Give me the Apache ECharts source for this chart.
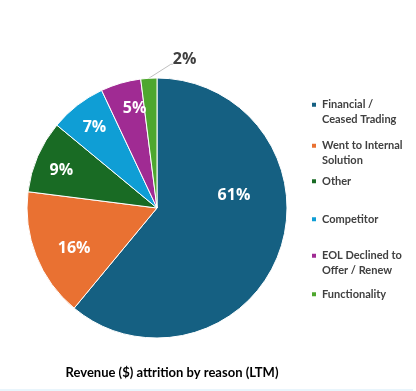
<!DOCTYPE html>
<html>
<head>
<meta charset="utf-8">
<script src="https://cdn.jsdelivr.net/npm/echarts@6/dist/echarts.min.js"></script>
<style>html,body{margin:0;padding:0;background:#fff;}#c{width:416px;height:391px;}</style>
</head>
<body>
<div id="c"></div>
<script>
const categories = ['Financial / Ceased Trading', 'Went to Internal Solution', 'Other', 'Competitor', 'EOL Declined to Offer / Renew', 'Functionality'];
const legendLabels = ['Financial /\nCeased Trading', 'Went to Internal\nSolution', 'Other', 'Competitor', 'EOL Declined to\nOffer / Renew', 'Functionality'];
const values = [61, 16, 9, 7, 5, 2];
const colors = ['#156082', '#E97132', '#196B24', '#0F9ED5', '#A02B93', '#4EA72E'];
const chartTitle = 'Revenue ($) attrition by reason (LTM)';

const chart = echarts.init(document.getElementById('c'), null, {renderer: 'canvas'});
const center = [157, 208];
const R = 130;
const legendTops = [83, 124, 174, 212, 234, 287];
const last = values.length - 1;

const pieData = categories.map((n, i) => ({name: n, value: values[i], itemStyle: {color: colors[i]}}));
const labelData = categories.map((n, i) => {
  const d = {name: n, value: values[i]};
  if (i === 0) d.label = {offset: [-19, -47]};
  if (i === 1) d.label = {offset: [12, 3]};
  if (i === 2) d.label = {offset: [-2, 3]};
  if (i === 4) d.label = {offset: [6, -2]};
  if (i === last) {
    d.label = {position: 'outside', color: '#404040'};
    d.labelLine = {show: true, length: 15, length2: 4, lineStyle: {color: '#bfbfbf', width: 1}};
  }
  return d;
});

// Two-line entries get a balancing empty line above so the marker sits beside the first line
const legends = categories.map((n, i) => ({
  data: [n],
  left: 310,
  top: legendTops[i],
  orient: 'vertical',
  padding: 0,
  itemWidth: 6,
  itemHeight: 6,
  icon: 'rect',
  selectedMode: false,
  formatter: () => (legendLabels[i].indexOf('\n') >= 0 ? '\n' : '') + legendLabels[i],
  textStyle: {fontFamily: 'Lato', fontWeight: 'bold', fontSize: 11, color: '#404040', lineHeight: 14.5}
}));

chart.setOption({
  animation: false,
  legend: legends,
  graphic: [{
    type: 'text', x: 172, y: 373,
    style: {text: chartTitle, fontFamily: 'Lato', fontWeight: 'bold', fontSize: 13, fill: '#000', textAlign: 'center', textVerticalAlign: 'middle'}
  }, {
    type: 'rect', left: 0, bottom: 0,
    shape: {width: 413, height: 2},
    style: {fill: '#e9f5fc'}
  }],
  series: [{
    type: 'pie', center: center, radius: [0, R], startAngle: 90, clockwise: true,
    data: pieData, label: {show: false}, labelLine: {show: false},
    itemStyle: {borderColor: '#fff', borderWidth: 1}, emphasis: {disabled: true}
  }, {
    type: 'pie', center: center, radius: [68, R], startAngle: 90, clockwise: true,
    data: labelData, silent: true,
    itemStyle: {color: 'rgba(0,0,0,0)', borderWidth: 0},
    label: {show: true, position: 'inside', formatter: '{c}%', color: '#fff', fontFamily: 'Open Sans', fontWeight: 'bold', fontSize: 16},
    labelLine: {show: false},
    labelLayout: function (p) {
      if (p.dataIndex !== last) return {};
      const a = (p.labelLinePoints && p.labelLinePoints[0]) || [p.rect.x + p.rect.width * 0.4, p.rect.y];
      const tx = a[0] + 24, ty = a[1] - 19;
      return {
        x: tx, y: ty, align: 'left', verticalAlign: 'middle',
        labelLinePoints: [[a[0], a[1]], [tx - 2, a[1] - 14], [tx, a[1] - 14]]
      };
    },
    emphasis: {disabled: true}
  }]
});
</script>
</body>
</html>
